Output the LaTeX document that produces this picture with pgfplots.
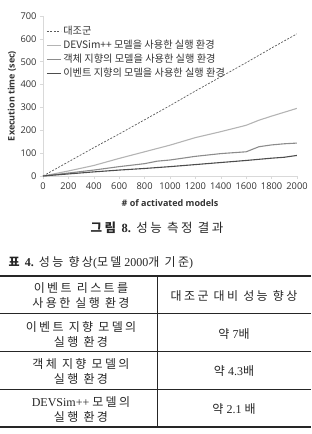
\documentclass[border=0pt]{standalone}
\usepackage{fontspec}
\usepackage{pgfplots}
\pgfplotsset{compat=1.18}
\setmainfont{Liberation Serif}
\newfontfamily\kr{Noto Sans CJK KR}
\newfontfamily\krs{Noto Sans CJK KR}[LetterSpace=20]
\newfontfamily\krb{Noto Sans CJK KR}[LetterSpace=20]
\newfontfamily\os{Open Sans}
\newcommand\K[1]{{\krs #1}}
\definecolor{cdash}{HTML}{5A5A5A}
\definecolor{cdev}{HTML}{B4B4B4}
\definecolor{cobj}{HTML}{8C8C8C}
\definecolor{cevt}{HTML}{4D4D4D}
\definecolor{gridc}{HTML}{D9D9D9}
\definecolor{tickc}{HTML}{333333}
\definecolor{txt}{HTML}{262626}
\begin{document}
\begin{tikzpicture}
\path[use as bounding box] (0,0) rectangle (311pt,-434pt);
\begin{axis}[
  at={(43pt,-176pt)}, anchor=south west,
  scale only axis, width=254pt, height=160pt,
  xmin=0, xmax=2000, ymin=0, ymax=700,
  xtick={0,200,...,2000}, ytick={0,100,...,700},
  axis x line*=bottom, axis y line*=left,
  axis line style={draw=gridc, line width=0.6pt, -},
  tick style={draw=gridc, line width=0.5pt},
  tick align=outside, major tick length=3pt,
  ticklabel style={font=\os\fontsize{9.3}{10}\selectfont, text=tickc},
  /pgf/number format/assume math mode=true,
  /pgf/number format/1000 sep={},
  scaled ticks=false,
  xlabel={\# of activated models},
  ylabel={Execution time (sec)},
  label style={font=\os\bfseries\fontsize{9}{11}\selectfont, text=tickc},
  xlabel style={at={(axis description cs:0.5,-0.169)}, anchor=center},
  ylabel style={at={(axis description cs:-0.122,0.5)}, anchor=center},
  legend style={at={(axis description cs:0.012,0.95)}, anchor=north west,
    draw=none, fill=none, inner sep=0pt, row sep=0pt,
    font=\kr\fontsize{10.2}{11}\selectfont, text=tickc},
  legend cell align=left,
  legend image code/.code={\draw[#1] (0pt,0pt) -- (14pt,0pt);},
]
\addplot[cdash, line width=0.7pt, dash pattern=on 2pt off 1.5pt] coordinates {
(0,0)(200,62)(400,124)(600,184)(800,246)(1000,308)(1200,372)(1400,434)(1600,496)(1800,560)(2000,622)};
\addplot[cdev, line width=1.1pt] coordinates {
(0,0)(200,22)(400,46)(600,77)(800,106)(1000,135)(1200,168)(1400,194)(1600,222)(1700,244)(1800,262)(2000,296)};
\addplot[cobj, line width=1.1pt] coordinates {
(0,0)(200,13)(400,26)(600,41)(800,54)(900,65)(1000,70)(1200,86)(1400,98)(1600,106)(1700,128)(1800,136)(1900,141)(2000,144)};
\addplot[cevt, line width=1.1pt] coordinates {
(0,0)(200,9)(400,18)(600,26)(800,33)(1000,41)(1200,50)(1400,59)(1600,68)(1800,78)(1900,82)(2000,90)};
\legend{대조군, DEVSim++ 모델을 사용한 실행 환경, 객체 지향의 모델을 사용한 실행 환경, 이벤트 지향의 모델을 사용한 실행 환경}
\end{axis}
% figure caption
\node[text=txt, font=\fontsize{12.5}{14}\selectfont] at (157pt,-228pt)
  {{\krb\bfseries 그림} \textbf{8.}\hspace{1pt} \K{성능 측정 결과}};
% table caption
\node[text=txt, anchor=west, font=\fontsize{12}{14}\selectfont] at (5pt,-263pt)
  {{\krb\bfseries 표} \textbf{4.}\hspace{1pt} \K{성능 향상}({\krs 모델} 2000\K{개 기준})};
% table rules
\draw[line width=1.2pt, txt] (0pt,-276pt) -- (311pt,-276pt);
\draw[line width=1.0pt, txt] (0pt,-313pt) -- (311pt,-313pt);
\draw[line width=0.5pt, txt] (0pt,-351pt) -- (311pt,-351pt);
\draw[line width=0.5pt, txt] (0pt,-389pt) -- (311pt,-389pt);
\draw[line width=1.2pt, txt] (0pt,-427pt) -- (311pt,-427pt);
\draw[line width=0.5pt, txt] (157pt,-276pt) -- (157pt,-427pt);
% table text
\begin{scope}[every node/.style={text=txt, align=center, font=\fontsize{12}{15}\selectfont}]
\node at (81pt,-295.5pt) {\K{이벤트 리스트를}\\\K{사용한 실행 환경}};
\node at (234pt,-296pt) {\K{대조군 대비 성능 향상}};
\node at (81pt,-334pt) {\K{이벤트 지향 모델의}\\\K{실행 환경}};
\node at (234pt,-334pt) {\K{약} 7\K{배}};
\node at (81pt,-371pt) {\K{객체 지향 모델의}\\\K{실행 환경}};
\node at (234pt,-371pt) {\K{약} 4.3\K{배}};
\node at (81pt,-409.5pt) {DEVSim++ \K{모델의}\\\K{실행 환경}};
\node at (234pt,-409pt) {\K{약} 2.1 \K{배}};
\end{scope}
\end{tikzpicture}
\end{document}
